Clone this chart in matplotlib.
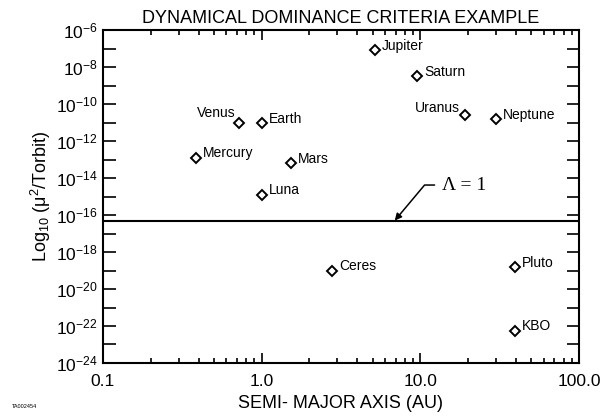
import math
import matplotlib
matplotlib.use("Agg")
import matplotlib.pyplot as plt
from matplotlib.ticker import FixedLocator, FuncFormatter, LogLocator, NullFormatter

plt.rcParams['font.family'] = ['Liberation Sans', 'DejaVu Sans']
plt.rcParams['mathtext.fontset'] = 'custom'
plt.rcParams['mathtext.rm'] = 'Liberation Sans'
plt.rcParams['mathtext.it'] = 'Liberation Sans:italic'

# Data
bodies = ["Mercury", "Venus", "Earth", "Luna", "Mars", "Ceres",
          "Jupiter", "Saturn", "Uranus", "Neptune", "Pluto", "KBO"]
semi_major_au = [0.387, 0.723, 1.0, 1.0, 1.524, 2.77,
                 5.2, 9.54, 19.2, 30.1, 39.5, 39.5]
log_ratio = [-12.9, -11.0, -11.05, -14.9, -13.2, -19.0,
             -7.1, -8.5, -10.6, -10.8, -18.8, -22.25]
criterion_log = -16.3

# label offsets in points (dx, dy) and alignment
offsets = {"Venus": (-3, 7, "right"), "Uranus": (-4, 5, "right")}

fig = plt.figure(figsize=(6.03, 4.17), dpi=100)
ax = fig.add_axes([0.1708, 0.1295, 0.7894, 0.7985])

yvals = [10 ** v for v in log_ratio]
ax.plot(semi_major_au, yvals, linestyle='none', marker='D', markersize=5,
        markerfacecolor='white', markeredgecolor='black', markeredgewidth=1.4)

for name, x, y in zip(bodies, semi_major_au, yvals):
    dx, dy, ha = offsets.get(name, (5, 3, "left"))
    ax.annotate(name, (x, y), xytext=(dx, dy), textcoords='offset points',
                ha=ha, va='center', fontsize=10)

ax.axhline(10 ** criterion_log, color='black', linewidth=1.5)
ax.annotate("Λ = 1", xy=(6.9, 10 ** criterion_log),
            xytext=(13.6, 10 ** -14.38), va='center', ha='left',
            fontsize=14, family='Liberation Serif',
            arrowprops=dict(arrowstyle='-|>', color='black', lw=1.1,
                            connectionstyle='angle,angleA=0,angleB=50,rad=0',
                            shrinkA=3, shrinkB=0, mutation_scale=10))

ax.set_xscale('log')
ax.set_yscale('log')
ax.set_xlim(0.1, 100)
ax.set_ylim(1e-24, 1e-6)

ax.xaxis.set_major_locator(FixedLocator([0.1, 1, 10, 100]))
ax.xaxis.set_major_formatter(FuncFormatter(lambda v, p: f"{v:.1f}"))
ax.xaxis.set_minor_locator(LogLocator(base=10, subs=range(2, 10)))
ax.xaxis.set_minor_formatter(NullFormatter())


def ylabel_fmt(v, pos):
    e = round(math.log10(v))
    return r"$10^{%d}$" % e if e % 2 == 0 else ""


exps = list(range(-24, -5))
ax.yaxis.set_major_locator(FixedLocator([10.0 ** e for e in exps]))
ax.yaxis.set_major_formatter(FuncFormatter(ylabel_fmt))
ax.yaxis.set_minor_locator(FixedLocator([]))

ax.tick_params(which='both', direction='in', top=True, right=True, width=1.2)
ax.tick_params(axis='y', which='major', length=9, labelsize=12.5, pad=4)
ax.tick_params(axis='x', which='major', length=7, labelsize=12.5, pad=8)
ax.tick_params(axis='x', which='minor', length=3.5)
for s in ax.spines.values():
    s.set_linewidth(1.5)

ax.set_title("DYNAMICAL DOMINANCE CRITERIA EXAMPLE", fontsize=13, pad=5)
ax.set_xlabel("SEMI- MAJOR AXIS (AU)", fontsize=13, labelpad=4)
ax.set_ylabel(r"Log$_{10}$ (μ$^2$/Torbit)", fontsize=13, labelpad=2)

fig.text(0.02, 0.022, "TA002454", fontsize=4)

fig.savefig("out.png", dpi=100)
